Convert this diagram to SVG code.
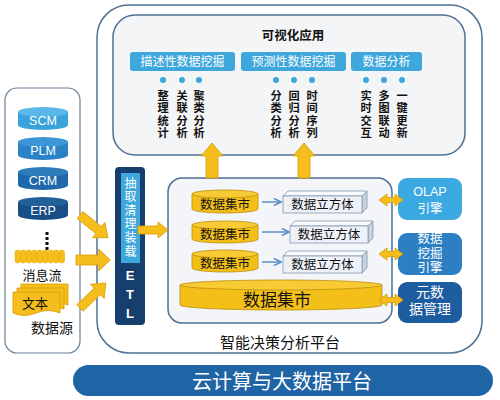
<svg xmlns="http://www.w3.org/2000/svg" width="500" height="400" viewBox="0 0 500 400">
<defs>
<style>
text{font-family:"Liberation Sans","Noto Sans CJK SC",sans-serif;}
.frame{fill:#ffffff;stroke:#4f7093;stroke-width:1.5;}
.panel{fill:#f4f5f7;stroke:#4f7093;stroke-width:1.5;}
.hdr{fill:#3ea7dc;}
.hdrt{fill:#ffffff;font-size:12px;text-anchor:middle;}
.dot{fill:#3ea7dc;}
.vt{fill:#111;font-size:11.2px;font-weight:bold;text-anchor:middle;}
.yel{fill:#f6be1c;stroke:#d49c00;stroke-width:0.8;}
.cyl{fill:#f5bf1a;stroke:#b98e0c;stroke-width:0.8;}
.cyltop{fill:#f8ca33;stroke:#b98e0c;stroke-width:0.8;}
.dt{fill:#111;font-size:12.5px;text-anchor:middle;}
.cf{fill:#eef2f8;stroke:#8298b0;stroke-width:0.8;}
.ct{fill:#f9fafc;stroke:#8298b0;stroke-width:0.8;}
.cs{fill:#c8d2de;stroke:#8298b0;stroke-width:0.8;}
.thin{stroke:#5a8fc8;stroke-width:1.5;fill:none;}
.wt{fill:#ffffff;text-anchor:middle;}
.src{fill:#ffffff;font-size:12.5px;text-anchor:middle;}
</style>
<marker id="ah" viewBox="0 0 10 10" refX="9" refY="5" markerWidth="6" markerHeight="6" orient="auto">
<path d="M1,1 L9,5 L1,9" fill="none" stroke="#5a8fc8" stroke-width="1.8"/>
</marker>
<path id="bigArrow" d="M0,-5 H24 V-11 L36,0 L24,11 V5 H0 Z"/>
<path id="dbl" d="M0,0 L8,-6 V-2.5 H16 V-6 L24,0 L16,6 V2.5 H8 V6 Z"/>
</defs>

<!-- outer platform -->
<g id="platform">
<rect class="frame" x="97" y="5" width="385" height="348" rx="32"/>
<text x="280" y="348" font-size="15" text-anchor="middle" fill="#111">智能决策分析平台</text>
</g>

<!-- data sources -->
<g id="sources">
<rect x="5" y="88" width="75" height="265" rx="12" fill="#ffffff" stroke="#6b8099" stroke-width="1.2"/>
<g id="scm">
<path d="M18,112 v13 a25,5 0 0 0 50,0 v-13 z" fill="#3aa3dc"/>
<ellipse cx="43" cy="112" rx="25" ry="5" fill="#5ab8e8"/>
<text class="src" x="43" y="125">SCM</text>
</g>
<g id="plm">
<path d="M18,142 v13 a25,5 0 0 0 50,0 v-13 z" fill="#2a83c6"/>
<ellipse cx="43" cy="142" rx="25" ry="5" fill="#3d97d6"/>
<text class="src" x="43" y="155">PLM</text>
</g>
<g id="crm">
<path d="M18,172 v13 a25,5 0 0 0 50,0 v-13 z" fill="#1f68ab"/>
<ellipse cx="43" cy="172" rx="25" ry="5" fill="#2e7bbc"/>
<text class="src" x="43" y="185">CRM</text>
</g>
<g id="erp">
<path d="M18,202 v13 a25,5 0 0 0 50,0 v-13 z" fill="#174e86"/>
<ellipse cx="43" cy="202" rx="25" ry="5" fill="#22609a"/>
<text class="src" x="43" y="215">ERP</text>
</g>
<g id="dots" fill="#111">
<rect x="45.5" y="232" width="3" height="3"/>
<rect x="45.5" y="237" width="3" height="3"/>
<rect x="45.5" y="242" width="3" height="3"/>
<rect x="45.5" y="247" width="3" height="3"/>
</g>
<g id="msgflow">
<g fill="#f6be1c" stroke="#e7a900" stroke-width="0.5">
<rect x="15" y="250" width="5.5" height="13" rx="2.5"/>
<rect x="20.5" y="250" width="5.5" height="13" rx="2.5"/>
<rect x="26" y="250" width="5.5" height="13" rx="2.5"/>
<rect x="31.5" y="250" width="5.5" height="13" rx="2.5"/>
<rect x="37" y="250" width="5.5" height="13" rx="2.5"/>
<rect x="42.5" y="250" width="5.5" height="13" rx="2.5"/>
<rect x="48" y="250" width="5.5" height="13" rx="2.5"/>
<rect x="53.5" y="250" width="5.5" height="13" rx="2.5"/>
<rect x="59" y="250" width="5.5" height="13" rx="2.5"/>
</g>
<text x="42" y="280" font-size="13" text-anchor="middle" fill="#111">消息流</text>
</g>
<g id="text-doc">
<path class="yel" d="M21,284 h47 v21 q-12,-5 -24,0 t-23,0 z"/>
<path class="yel" d="M17,288 h47 v21 q-12,-5 -24,0 t-23,0 z"/>
<path class="yel" d="M13,292 h47 v21 q-12,-5 -24,0 t-23,0 z"/>
<text x="35" y="308" font-size="13" text-anchor="middle" fill="#111">文本</text>
</g>
<text x="52" y="333" font-size="14" text-anchor="middle" fill="#111">数据源</text>
</g>

<!-- visualization -->
<g id="visual">
<rect class="panel" x="113" y="15" width="352" height="140" rx="22"/>
<text x="293" y="40" font-size="12.5" font-weight="bold" text-anchor="middle" fill="#111">可视化应用</text>
<rect class="hdr" x="130" y="52" width="105" height="19" rx="3"/>
<text class="hdrt" x="182.5" y="66">描述性数据挖掘</text>
<rect class="hdr" x="241" y="52" width="105" height="19" rx="3"/>
<text class="hdrt" x="293.5" y="66">预测性数据挖掘</text>
<rect class="hdr" x="351" y="52" width="71" height="19" rx="3"/>
<text class="hdrt" x="386.5" y="66">数据分析</text>
<g>
<circle class="dot" cx="163" cy="80" r="3"/><circle class="dot" cx="182" cy="80" r="3"/><circle class="dot" cx="199" cy="80" r="3"/>
<circle class="dot" cx="276" cy="80" r="3"/><circle class="dot" cx="294" cy="80" r="3"/><circle class="dot" cx="312" cy="80" r="3"/>
<circle class="dot" cx="366" cy="80" r="3"/><circle class="dot" cx="384" cy="80" r="3"/><circle class="dot" cx="402" cy="80" r="3"/>
</g>
<text class="vt"><tspan x="163" y="99.5">整</tspan><tspan x="163" dy="12.5">理</tspan><tspan x="163" dy="12.5">统</tspan><tspan x="163" dy="12.5">计</tspan></text>
<text class="vt"><tspan x="182" y="99.5">关</tspan><tspan x="182" dy="12.5">联</tspan><tspan x="182" dy="12.5">分</tspan><tspan x="182" dy="12.5">析</tspan></text>
<text class="vt"><tspan x="199" y="99.5">聚</tspan><tspan x="199" dy="12.5">类</tspan><tspan x="199" dy="12.5">分</tspan><tspan x="199" dy="12.5">析</tspan></text>
<text class="vt"><tspan x="276" y="99.5">分</tspan><tspan x="276" dy="12.5">类</tspan><tspan x="276" dy="12.5">分</tspan><tspan x="276" dy="12.5">析</tspan></text>
<text class="vt"><tspan x="294" y="99.5">回</tspan><tspan x="294" dy="12.5">归</tspan><tspan x="294" dy="12.5">分</tspan><tspan x="294" dy="12.5">析</tspan></text>
<text class="vt"><tspan x="312" y="99.5">时</tspan><tspan x="312" dy="12.5">间</tspan><tspan x="312" dy="12.5">序</tspan><tspan x="312" dy="12.5">列</tspan></text>
<text class="vt"><tspan x="366" y="99.5">实</tspan><tspan x="366" dy="12.5">时</tspan><tspan x="366" dy="12.5">交</tspan><tspan x="366" dy="12.5">互</tspan></text>
<text class="vt"><tspan x="384" y="99.5">多</tspan><tspan x="384" dy="12.5">图</tspan><tspan x="384" dy="12.5">联</tspan><tspan x="384" dy="12.5">动</tspan></text>
<text class="vt"><tspan x="402" y="99.5">一</tspan><tspan x="402" dy="12.5">键</tspan><tspan x="402" dy="12.5">更</tspan><tspan x="402" dy="12.5">新</tspan></text>
</g>

<!-- ETL -->
<g id="etl">
<rect x="115" y="167" width="30" height="158" rx="4" fill="#173f6e"/>
<rect x="121" y="173" width="19" height="90" fill="#3ea7dc"/>
<text class="wt" font-size="12"><tspan x="130.5" y="187.5">抽</tspan><tspan x="130.5" dy="13.6">取</tspan><tspan x="130.5" dy="13.6">清</tspan><tspan x="130.5" dy="13.6">理</tspan><tspan x="130.5" dy="13.6">装</tspan><tspan x="130.5" dy="13.6">载</tspan></text>
<text class="wt" font-size="13" font-weight="bold"><tspan x="130" y="280">E</tspan><tspan x="130" y="299">T</tspan><tspan x="130" y="318">L</tspan></text>
</g>

<!-- data warehouse box -->
<g id="warehouse">
<rect x="168" y="178" width="224" height="145" rx="14" fill="#f3f5f8" stroke="#4f7093" stroke-width="1.5"/>
</g>

<g id="mart1">
<path class="cyl" d="M192,194 v15 a33,4 0 0 0 66,0 v-15 z"/>
<ellipse class="cyltop" cx="225" cy="194" rx="33" ry="4"/>
<text class="dt" x="225" y="209">数据集市</text>
</g>
<g id="mart2">
<path class="cyl" d="M192,225 v14 a33,4 0 0 0 66,0 v-14 z"/>
<ellipse class="cyltop" cx="225" cy="225" rx="33" ry="4"/>
<text class="dt" x="225" y="239">数据集市</text>
</g>
<g id="mart3">
<path class="cyl" d="M192,254 v14 a33,4 0 0 0 66,0 v-14 z"/>
<ellipse class="cyltop" cx="225" cy="254" rx="33" ry="4"/>
<text class="dt" x="225" y="268">数据集市</text>
</g>
<g id="mart-big">
<path class="cyl" d="M180,285 v20 a101,5 0 0 0 202,0 v-20 z"/>
<ellipse class="cyltop" cx="281" cy="285" rx="101" ry="5"/>
<text x="277" y="306" font-size="17" text-anchor="middle" fill="#111">数据集市</text>
</g>

<g id="cube1">
<path class="ct" d="M283,196 L288,191 H367 L362,196 Z"/>
<path class="cs" d="M362,196 L367,191 V208 L362,213 Z"/>
<rect class="cf" x="283" y="196" width="79" height="17"/>
<text class="dt" x="322.5" y="209" font-size="12">数据立方体</text>
</g>
<g id="cube2">
<path class="ct" d="M290,226 L295,221 H373 L368,226 Z"/>
<path class="cs" d="M368,226 L373,221 V238 L368,243 Z"/>
<rect class="cf" x="290" y="226" width="78" height="17"/>
<text class="dt" x="329" y="239" font-size="12">数据立方体</text>
</g>
<g id="cube3">
<path class="ct" d="M283,256 L288,251 H367 L362,256 Z"/>
<path class="cs" d="M362,256 L367,251 V268 L362,273 Z"/>
<rect class="cf" x="283" y="256" width="79" height="17"/>
<text class="dt" x="322.5" y="269" font-size="12">数据立方体</text>
</g>

<g id="olap">
<rect x="398" y="178" width="64" height="42" rx="9" fill="#3ba9e2"/>
<text class="wt" font-size="12.5"><tspan x="430" y="196">OLAP</tspan><tspan x="430" y="213">引擎</tspan></text>
</g>
<g id="mining">
<rect x="398" y="233" width="64" height="42" rx="9" fill="#2c7fc3"/>
<text class="wt" font-size="12.5"><tspan x="430" y="243">数据</tspan><tspan x="430" y="257.5">挖掘</tspan><tspan x="430" y="272">引擎</tspan></text>
</g>
<g id="meta">
<rect x="398" y="282" width="64" height="41" rx="9" fill="#1d5c9e"/>
<text class="wt" font-size="14"><tspan x="430" y="297">元数</tspan><tspan x="430" y="314">据管理</tspan></text>
</g>

<!-- cloud banner -->
<g id="cloud">
<rect x="73" y="365" width="420" height="31" rx="15.5" fill="#1f64a4"/>
<text class="wt" x="282" y="389" font-size="20">云计算与大数据平台</text>
</g>

<!-- connectors -->
<g id="connectors">
<g class="yel">
<use href="#bigArrow" transform="translate(80,215) rotate(39) scale(1,0.9)"/>
<use href="#bigArrow" transform="translate(76,260) scale(0.95,1)"/>
<use href="#bigArrow" transform="translate(80,308) rotate(-44) scale(1,0.9)"/>
<path d="M138,226 H158 V222 L168,230 L158,238 V234 H138 Z"/>
<path d="M206,178 V156 H201 L212,143 L223,156 H218 V178 Z"/>
<path d="M298,178 V156 H293 L304,143 L315,156 H310 V178 Z"/>
<use href="#dbl" transform="translate(379,200)"/>
<use href="#dbl" transform="translate(379,254)"/>
<use href="#dbl" transform="translate(379,300)"/>
</g>
<line class="thin" x1="262" y1="202" x2="281" y2="202" marker-end="url(#ah)"/>
<line class="thin" x1="262" y1="232" x2="289" y2="232" marker-end="url(#ah)"/>
<line class="thin" x1="262" y1="262" x2="281" y2="262" marker-end="url(#ah)"/>
</g>
</svg>
